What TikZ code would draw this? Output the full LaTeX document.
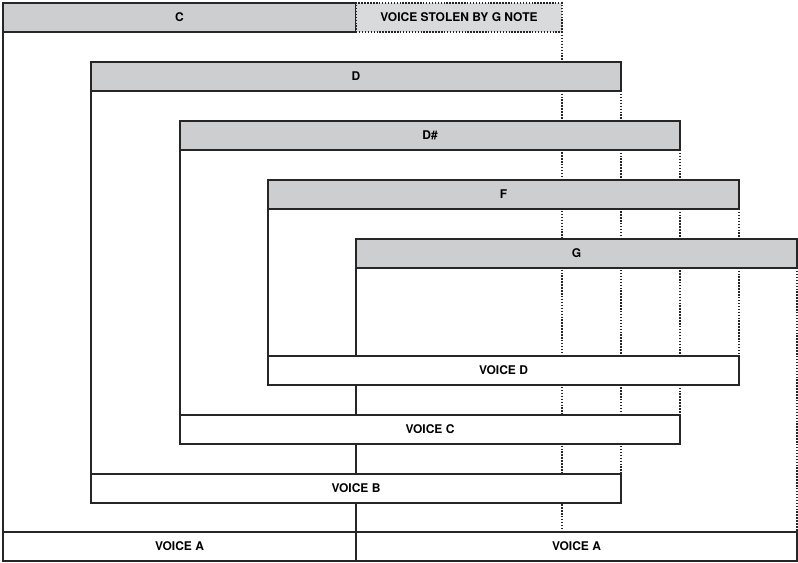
\documentclass[tikz,border=0pt]{standalone}
\usepackage{fontspec}
\setmainfont{TeX Gyre Heros}
\definecolor{bargray}{HTML}{CDCED0}
\definecolor{stolengray}{HTML}{D9DADC}
\begin{document}
\begin{tikzpicture}[x=0.75pt,y=-0.75pt,
  box/.style={draw=black!85, line width=1.3pt, inner sep=0pt, outer sep=0pt, anchor=north west,
    minimum height=21.75pt, font=\bfseries\fontsize{9}{10}\selectfont},
  bar/.style={box, fill=bargray},
  vbox/.style={box, fill=white},
  stolen/.style={box, fill=stolengray, draw=black!85, line width=1.1pt, dash pattern=on 1.1pt off 1.1pt},
  solidline/.style={draw=black!85, line width=1.3pt},
  dotline/.style={draw=black!85, line width=1.1pt, dash pattern=on 1.1pt off 1.1pt}]
\path[use as bounding box] (0,0) rectangle (798,562);
% bars (positions)
\coordinate (pC) at (3,3);
% dotted right edges (drawn first)
\coordinate (sC) at (562,32);
\coordinate (eC) at (562,532);
\coordinate (sD) at (621,91);
\coordinate (eD) at (621,474);
\coordinate (sDs) at (680,150);
\coordinate (eDs) at (680,415);
\coordinate (sF) at (739,209);
\coordinate (eF) at (739,356);
\coordinate (sG) at (797,268);
\coordinate (eG) at (797,532);
\draw[dotline] (sC) -- (eC);
\draw[dotline] (sD) -- (eD);
\draw[dotline] (sDs) -- (eDs);
\draw[dotline] (sF) -- (eF);
\draw[dotline] (sG) -- (eG);
% top bars
\node[bar, minimum width=264.75pt] (Cbar) at (3,3) {C};
\node[stolen, minimum width=154.5pt] (Stolen) at (356,3) {VOICE STOLEN BY G NOTE};
\node[bar, minimum width=397.5pt] (Dbar) at (91,62) {D};
\node[bar, minimum width=375pt] (Dsbar) at (180,121) {D\#};
\node[bar, minimum width=353.25pt] (Fbar) at (268,180) {F};
\node[bar, minimum width=330.75pt] (Gbar) at (356,239) {G};
% voice boxes
\node[vbox, minimum width=353.25pt] (VD) at (268,356) {VOICE D};
\node[vbox, minimum width=375pt] (VC) at (180,415) {VOICE C};
\node[vbox, minimum width=397.5pt] (VB) at (91,474) {VOICE B};
\node[vbox, minimum width=264.75pt] (VA1) at (3,532) {VOICE A};
\node[vbox, minimum width=330.75pt] (VA2) at (356,532) {VOICE A};
% solid left edges
\draw[solidline] (Cbar.south west) -- (VA1.north west);
\draw[solidline] (Dbar.south west) -- (VB.north west);
\draw[solidline] (Dsbar.south west) -- (VC.north west);
\draw[solidline] (Fbar.south west) -- (VD.north west);
\draw[solidline] (Gbar.south west) -- (VD.north west -| Gbar.south west);
\draw[solidline] (VD.south west -| Gbar.south west) -- (VC.north west -| Gbar.south west);
\draw[solidline] (VC.south west -| Gbar.south west) -- (VB.north west -| Gbar.south west);
\draw[solidline] (VB.south west -| Gbar.south west) -- (VA2.north west);
\end{tikzpicture}
\end{document}
